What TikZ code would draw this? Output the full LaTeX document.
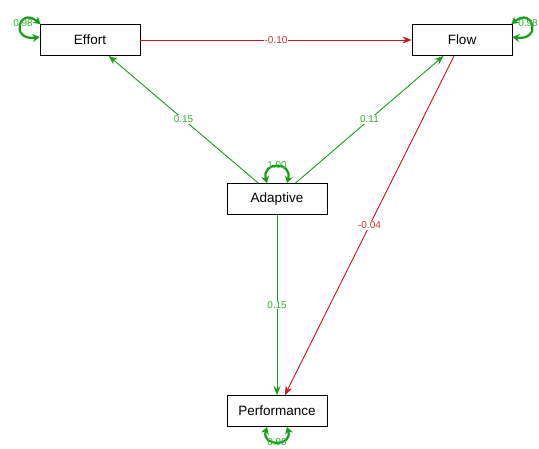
\documentclass[tikz,border=0pt]{standalone}
\usepackage{fontspec}
\setmainfont{Liberation Sans}
\usepackage{tikz}
\usetikzlibrary{arrows.meta, positioning}
\definecolor{semgreen}{RGB}{20,160,20}
\definecolor{semred}{RGB}{210,20,30}
\definecolor{lblgreen}{RGB}{50,180,50}
\definecolor{lblred}{RGB}{210,50,50}
\tikzset{
  manifest/.style={rectangle, draw=black, fill=white, line width=0.8pt,
    minimum width=100pt, minimum height=31pt, inner sep=0pt,
    font=\fontsize{13.5}{15}\selectfont},
  posarrow/.style={-{Stealth[length=9pt,width=7pt]}, line width=0.9pt, color=semgreen},
  negarrow/.style={-{Stealth[length=9pt,width=7pt]}, line width=0.9pt, color=semred},
  varloop/.style={{Stealth[length=7pt,width=8pt]}-{Stealth[length=7pt,width=8pt]}, line width=2.2pt, color=semgreen},
  poslabel/.style={fill=white, inner sep=0.5pt, text=lblgreen, font=\fontsize{10}{11}\selectfont},
  neglabel/.style={fill=white, inner sep=0.5pt, text=lblred, font=\fontsize{10}{11}\selectfont},
  varlabel/.style={inner sep=0pt, text=lblgreen, font=\fontsize{10}{11}\selectfont}
}

\begin{document}
\begin{tikzpicture}[x=1pt, y=-1pt]
  \useasboundingbox (0,0) rectangle (539,448);

  \node[manifest] (effort) at (90,40) {Effort};
  \node[manifest] (flow) at (462,40) {Flow};
  \node[manifest] (adapt) at (277,199) {Adaptive};
  \node[manifest] (perf) at (277,411) {Performance};

  \draw[negarrow] (effort) -- node[neglabel] {-0.10} (flow);
  \draw[posarrow] (adapt) -- node[poslabel] {0.15} (effort);
  \draw[posarrow] (adapt) -- node[poslabel] {0.11} (flow);
  \draw[posarrow] (adapt) -- node[poslabel] {0.15} (perf);
  \draw[negarrow] (flow) -- node[neglabel] {-0.04} (perf);

  \draw[varloop] ([xshift=1pt]effort.north west) .. controls +(-22,-18) and +(-30,4) .. ([yshift=-13pt]effort.north west);
  \draw[varloop] ([xshift=-1pt]flow.north east) .. controls +(22,-18) and +(30,4) .. ([yshift=-13pt]flow.north east);
  \draw[varloop] ([xshift=-10pt]adapt.north) .. controls +(-6,-22) and +(6,-22) .. ([xshift=10pt]adapt.north);
  \draw[varloop] ([xshift=-10pt]perf.south) .. controls +(-6,20) and +(6,20) .. ([xshift=10pt]perf.south);

  \node[varlabel] (effortvar) at (23,23) {0.98};
  \node[varlabel] (flowvar) at (528,23) {0.98};
  \node[varlabel, above=14pt of adapt.north] (adaptvar) {1.00};
  \node[varlabel, below=11pt of perf.south] (perfvar) {0.98};
\end{tikzpicture}
\end{document}
